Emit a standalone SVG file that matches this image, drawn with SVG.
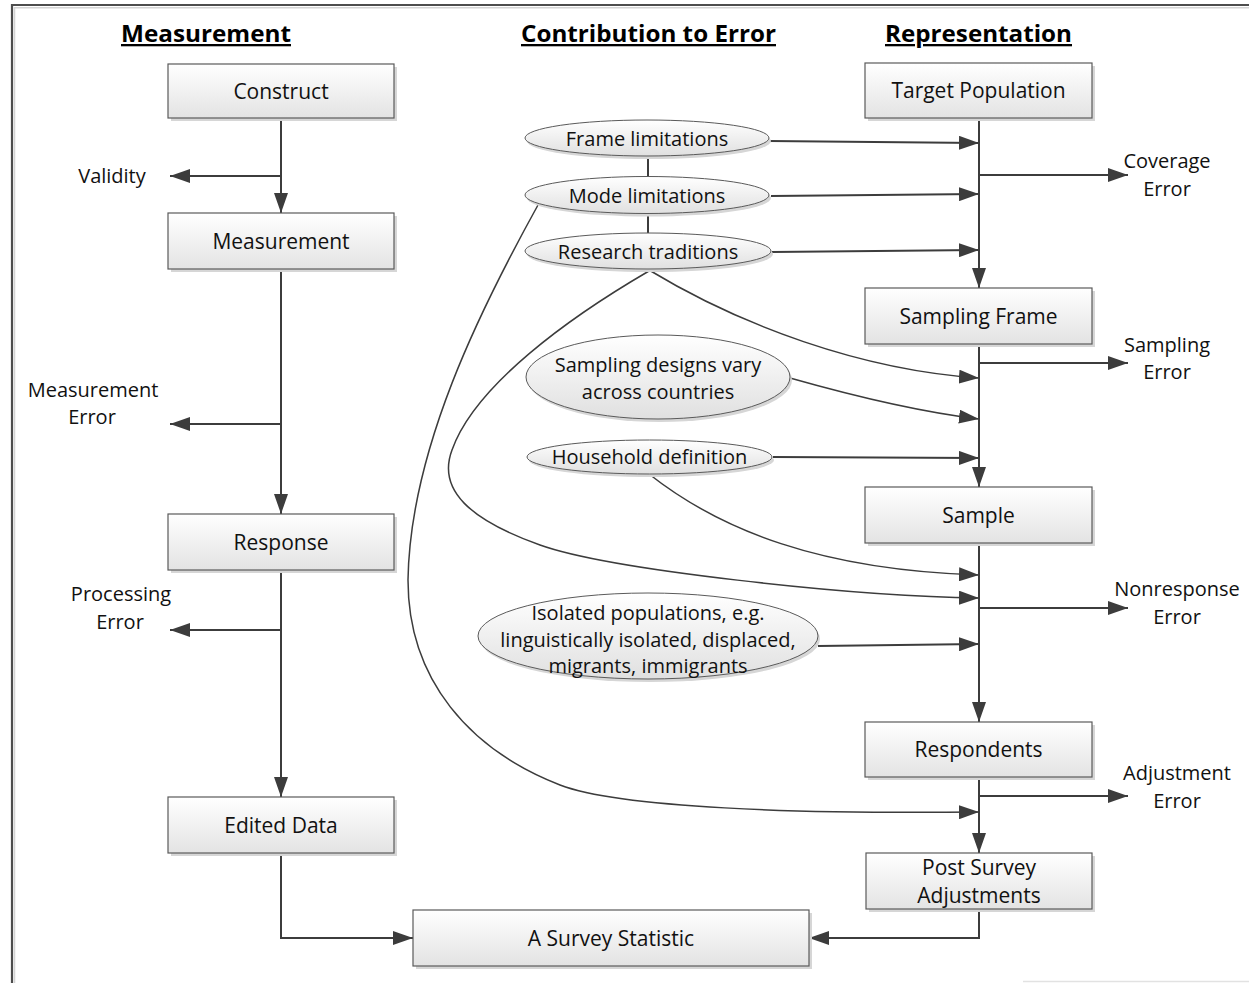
<svg xmlns="http://www.w3.org/2000/svg" width="1249" height="983" viewBox="0 0 1249 983">
<style>
  .t { font-family: "Open Sans", "Liberation Sans", sans-serif; fill: #111; text-anchor: middle; }
  .bt { font-size: 21px; }
  .et { font-size: 20px; }
  .lt { font-size: 20px; }
  .hd { font-family: "Open Sans", "Liberation Sans", sans-serif; font-size: 23px; font-weight: bold; fill: #000; text-anchor: middle; text-decoration: underline; }
  .bx { fill: url(#gBox); stroke: #5a5a5a; stroke-width: 1.2; }
  .el { fill: url(#gEl); stroke: #5a5a5a; stroke-width: 1; }
  .sh { fill: #d6d6d6; }
  .ln { fill: none; stroke: #3c3c3c; stroke-width: 2; }
  .ar { fill: none; stroke: #3c3c3c; stroke-width: 2; marker-end: url(#ah); }
  .cv { fill: none; stroke: #3c3c3c; stroke-width: 1.5; marker-end: url(#ah); }
  .cl { fill: none; stroke: #3c3c3c; stroke-width: 1.5; }
</style>
<defs>
  <linearGradient id="gBox" x1="0" y1="0" x2="0" y2="1">
    <stop offset="0" stop-color="#ffffff"/>
    <stop offset="1" stop-color="#e3e3e3"/>
  </linearGradient>
  <linearGradient id="gEl" x1="0" y1="0" x2="0" y2="1">
    <stop offset="0" stop-color="#ffffff"/>
    <stop offset="1" stop-color="#e0e0e0"/>
  </linearGradient>
  <marker id="ah" markerUnits="userSpaceOnUse" markerWidth="20" markerHeight="14" refX="20" refY="7" orient="auto" viewBox="0 0 20 14">
    <path d="M0,0 L20,7 L0,14 z" fill="#3c3c3c"/>
  </marker>
</defs>

<!-- frame -->
<g id="frame">
  <path d="M12,983 L12,5 L1249,5" fill="none" stroke="#4d4d4d" stroke-width="2.2"/>
  <path d="M14.5,983 L14.5,7.8 L1249,7.8" fill="none" stroke="#d4d4d4" stroke-width="1.5"/>
  <path d="M1023,981.5 L1249,981.5" fill="none" stroke="#e2e2e2" stroke-width="1.5"/>
</g>

<!-- headers -->
<g id="headers">
  <text class="hd" x="206" y="42" textLength="170" lengthAdjust="spacingAndGlyphs">Measurement</text>
  <text class="hd" x="648.5" y="42" textLength="255" lengthAdjust="spacingAndGlyphs">Contribution to Error</text>
  <text class="hd" x="978.5" y="42" textLength="187" lengthAdjust="spacingAndGlyphs">Representation</text>
</g>

<!-- connectors -->
<g id="connectors">
  <!-- left column -->
  <path class="ar" d="M281,118 L281,213"/>
  <path class="ar" d="M281,176 L170,176"/>
  <path class="ar" d="M281,269 L281,514"/>
  <path class="ar" d="M281,424 L170,424"/>
  <path class="ar" d="M281,570 L281,797"/>
  <path class="ar" d="M281,630 L170,630"/>
  <path class="ar" d="M281,853 L281,938 L413,938"/>
  <!-- right column -->
  <path class="ar" d="M979,118 L979,288"/>
  <path class="ar" d="M979,175 L1128,175"/>
  <path class="ar" d="M979,344 L979,487"/>
  <path class="ar" d="M979,363 L1128,363"/>
  <path class="ar" d="M979,543 L979,722"/>
  <path class="ar" d="M979,608 L1128,608"/>
  <path class="ar" d="M979,777 L979,853"/>
  <path class="ar" d="M979,796 L1128,796"/>
  <path class="ar" d="M979,909 L979,938 L809,938"/>
  <!-- ellipse links -->
  <path class="ln" d="M648,156 L648,177"/>
  <path class="ln" d="M648,213 L648,233"/>
  <path class="ar" d="M769,141 L979,143"/>
  <path class="ar" d="M771,196 L979,194"/>
  <path class="ar" d="M772,252 L979,250"/>
  <path class="ar" d="M773,457 L979,458"/>
  <path class="ar" d="M818,646 L979,644"/>
  <path class="cv" d="M790,378 C850,395 920,412 979,419"/>
  <path class="cv" d="M649,270 C740,325 860,370 979,378"/>
  <path class="cv" d="M649,271 C570,317 475,385 452,450 C437,490 470,520 540,545 C610,570 850,596 979,598"/>
  <path class="cv" d="M649,474 C720,530 820,570 979,575"/>
  <path class="cv" d="M538,205 C480,310 410,450 408,580 C408,680 470,750 560,785 C620,808 800,814 979,812"/>
</g>

<!-- left column nodes -->
<g id="construct">
  <rect class="sh" x="171" y="67" width="226" height="54"/>
  <rect class="bx" x="168" y="64" width="226" height="54"/>
  <text class="t bt" x="281" y="99">Construct</text>
</g>
<g id="measurement">
  <rect class="sh" x="171" y="216" width="226" height="56"/>
  <rect class="bx" x="168" y="213" width="226" height="56"/>
  <text class="t bt" x="281" y="248.5">Measurement</text>
</g>
<g id="response">
  <rect class="sh" x="171" y="517" width="226" height="56"/>
  <rect class="bx" x="168" y="514" width="226" height="56"/>
  <text class="t bt" x="281" y="549.5">Response</text>
</g>
<g id="edited-data">
  <rect class="sh" x="171" y="800" width="226" height="56"/>
  <rect class="bx" x="168" y="797" width="226" height="56"/>
  <text class="t bt" x="281" y="832.5">Edited Data</text>
</g>
<g id="survey-statistic">
  <rect class="sh" x="416" y="913" width="396" height="56"/>
  <rect class="bx" x="413" y="910" width="396" height="56"/>
  <text class="t bt" x="611" y="945.5">A Survey Statistic</text>
</g>

<!-- right column nodes -->
<g id="target-population">
  <rect class="sh" x="868" y="66" width="227" height="55"/>
  <rect class="bx" x="865" y="63" width="227" height="55"/>
  <text class="t bt" x="978.5" y="98">Target Population</text>
</g>
<g id="sampling-frame">
  <rect class="sh" x="868" y="291" width="227" height="56"/>
  <rect class="bx" x="865" y="288" width="227" height="56"/>
  <text class="t bt" x="978.5" y="323.5">Sampling Frame</text>
</g>
<g id="sample">
  <rect class="sh" x="868" y="490" width="227" height="56"/>
  <rect class="bx" x="865" y="487" width="227" height="56"/>
  <text class="t bt" x="978.5" y="522.5">Sample</text>
</g>
<g id="respondents">
  <rect class="sh" x="868" y="725" width="227" height="55"/>
  <rect class="bx" x="865" y="722" width="227" height="55"/>
  <text class="t bt" x="978.5" y="757">Respondents</text>
</g>
<g id="post-survey">
  <rect class="sh" x="869" y="856" width="226" height="56"/>
  <rect class="bx" x="866" y="853" width="226" height="56"/>
  <text class="t bt" x="979" y="874.5">Post Survey</text>
  <text class="t bt" x="979" y="902.5">Adjustments</text>
</g>

<!-- contribution ellipses -->
<g id="frame-limitations">
  <ellipse class="sh" cx="649" cy="141" rx="122" ry="18"/>
  <ellipse class="el" cx="647" cy="138" rx="122" ry="18"/>
  <text class="t et" x="647" y="145.5">Frame limitations</text>
</g>
<g id="mode-limitations">
  <ellipse class="sh" cx="649" cy="198" rx="122" ry="18.5"/>
  <ellipse class="el" cx="647" cy="195" rx="122" ry="18.5"/>
  <text class="t et" x="647" y="202.5">Mode limitations</text>
</g>
<g id="research-traditions">
  <ellipse class="sh" cx="650" cy="254" rx="123" ry="18"/>
  <ellipse class="el" cx="648" cy="251" rx="123" ry="18"/>
  <text class="t et" x="648" y="258.5">Research traditions</text>
</g>
<g id="sampling-designs">
  <ellipse class="sh" cx="660" cy="380" rx="132" ry="42"/>
  <ellipse class="el" cx="658" cy="377" rx="132" ry="42"/>
  <text class="t et" x="658" y="371.5">Sampling designs vary</text>
  <text class="t et" x="658" y="398.5">across countries</text>
</g>
<g id="household-definition">
  <ellipse class="sh" cx="651.5" cy="460" rx="122.5" ry="17"/>
  <ellipse class="el" cx="649.5" cy="457" rx="122.5" ry="17"/>
  <text class="t et" x="649.5" y="464">Household definition</text>
</g>
<g id="isolated-populations">
  <ellipse class="sh" cx="650" cy="639" rx="170" ry="43"/>
  <ellipse class="el" cx="648" cy="636" rx="170" ry="43"/>
  <text class="t et" x="648" y="620">Isolated populations, e.g.</text>
  <text class="t et" x="648" y="647">linguistically isolated, displaced,</text>
  <text class="t et" x="648" y="673">migrants, immigrants</text>
</g>

<!-- error labels -->
<g id="labels">
  <text class="t lt" x="112" y="183">Validity</text>
  <text class="t lt" x="93" y="397">Measurement</text>
  <text class="t lt" x="92" y="424">Error</text>
  <text class="t lt" x="121" y="601">Processing</text>
  <text class="t lt" x="120" y="629">Error</text>
  <text class="t lt" x="1167" y="168">Coverage</text>
  <text class="t lt" x="1167" y="196">Error</text>
  <text class="t lt" x="1167" y="352">Sampling</text>
  <text class="t lt" x="1167" y="379">Error</text>
  <text class="t lt" x="1177" y="596">Nonresponse</text>
  <text class="t lt" x="1177" y="624">Error</text>
  <text class="t lt" x="1177" y="780">Adjustment</text>
  <text class="t lt" x="1177" y="808">Error</text>
</g>
</svg>
